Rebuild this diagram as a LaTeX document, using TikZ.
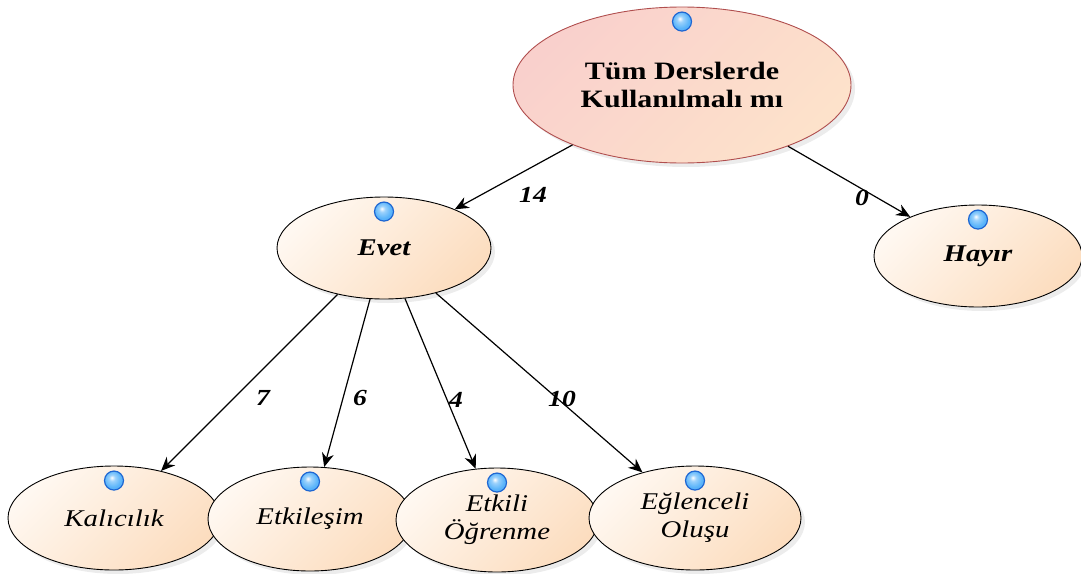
\documentclass[tikz,border=0pt]{standalone}
\usepackage{fontspec}
\setmainfont{Liberation Serif}[FakeStretch=1.2]
\usetikzlibrary{arrows.meta,shapes.geometric,shadows}

\definecolor{peachlight}{HTML}{FFF8F1}
\definecolor{peachdeep}{HTML}{FCDDBF}
\definecolor{roselight}{HTML}{F9D0CC}
\definecolor{rosedeep}{HTML}{FDE2CB}
\definecolor{rootline}{HTML}{B04E4E}
\definecolor{dotblue}{HTML}{5AB4FA}
\definecolor{dotrim}{HTML}{1E66D2}

% glossy knob: white highlight in the upper left, light blue body
\pgfdeclareradialshading{knobgloss}{\pgfpoint{-6bp}{8bp}}{%
  color(0bp)=(white); color(8bp)=(white!40!dotblue);
  color(22bp)=(dotblue); color(50bp)=(dotblue!70!dotrim)}

\tikzset{
  bubble/.style={ellipse, draw=black, line width=0.9pt, inner sep=0pt,
    top color=peachlight, bottom color=peachdeep, shading angle=45,
    drop shadow={shadow xshift=4pt, shadow yshift=-4pt, opacity=0.15},
    align=center, font=\itshape\fontsize{24}{28}\selectfont},
  rootbubble/.style={bubble, draw=rootline, top color=roselight,
    bottom color=rosedeep, shading angle=45,
    font=\bfseries\fontsize{25}{28}\selectfont},
  knob/.style={circle, minimum size=19pt, inner sep=0pt, draw=dotrim,
    line width=1.2pt, shading=knobgloss},
  conn/.style={draw=black, line width=1.2pt,
    -{Stealth[length=14pt, width=12pt]}},
  count/.style={font=\bfseries\itshape\fontsize{23}{24}\selectfont}
}

\begin{document}
\begin{tikzpicture}[x=1pt, y=1pt]
\useasboundingbox (0,0) rectangle (1081,-573);

% question at the top
\node[rootbubble, minimum width=338pt, minimum height=156pt] (root) at (682,-85)
  {Tüm Derslerde\\Kullanılmalı mı};

% answers
\node[bubble, font=\bfseries\itshape\fontsize{24}{28}\selectfont,
  minimum width=214pt, minimum height=102pt] (evet) at (384,-248) {Evet};
\node[bubble, font=\bfseries\itshape\fontsize{24}{28}\selectfont,
  minimum width=208pt, minimum height=102pt] (hayir) at (978,-256) {Hayır};

% reasons
\node[bubble, minimum width=212pt, minimum height=104pt] (kal) at (114,-518) {Kalıcılık};
\node[bubble, minimum width=204pt, minimum height=104pt] (etk) at (310,-519) {Etkileşim};
\node[bubble, minimum width=202pt, minimum height=104pt] (ogr) at (497,-520) {Etkili\\Öğrenme};
\node[bubble, minimum width=212pt, minimum height=104pt] (egl) at (695,-518) {Eğlenceli\\Oluşu};

% small blue knobs on top of each bubble
\node[knob] (k-root) at ([yshift=-15pt]root.north) {};
\node[knob] (k-evet) at ([yshift=-15pt]evet.north) {};
\node[knob] (k-hayir) at ([yshift=-15pt]hayir.north) {};
\node[knob] (k-kal) at ([yshift=-15pt]kal.north) {};
\node[knob] (k-etk) at ([yshift=-15pt]etk.north) {};
\node[knob] (k-ogr) at ([yshift=-15pt]ogr.north) {};
\node[knob] (k-egl) at ([yshift=-15pt]egl.north) {};

% connectors
\draw[conn] (root) -- (evet);
\draw[conn] (root) -- (hayir);
\draw[conn] (evet) -- (kal);
\draw[conn] (evet) -- (etk);
\draw[conn] (evet) -- (ogr);
\draw[conn] (evet) -- (egl);

% counts
\node[count] (n14) at (533,-195) {14};
\node[count] (n0) at (862,-198) {0};
\node[count] (n7) at (263,-398) {7};
\node[count] (n6) at (360,-398) {6};
\node[count] (n4) at (456,-400) {4};
\node[count] (n10) at (562,-399) {10};
\end{tikzpicture}
\end{document}
